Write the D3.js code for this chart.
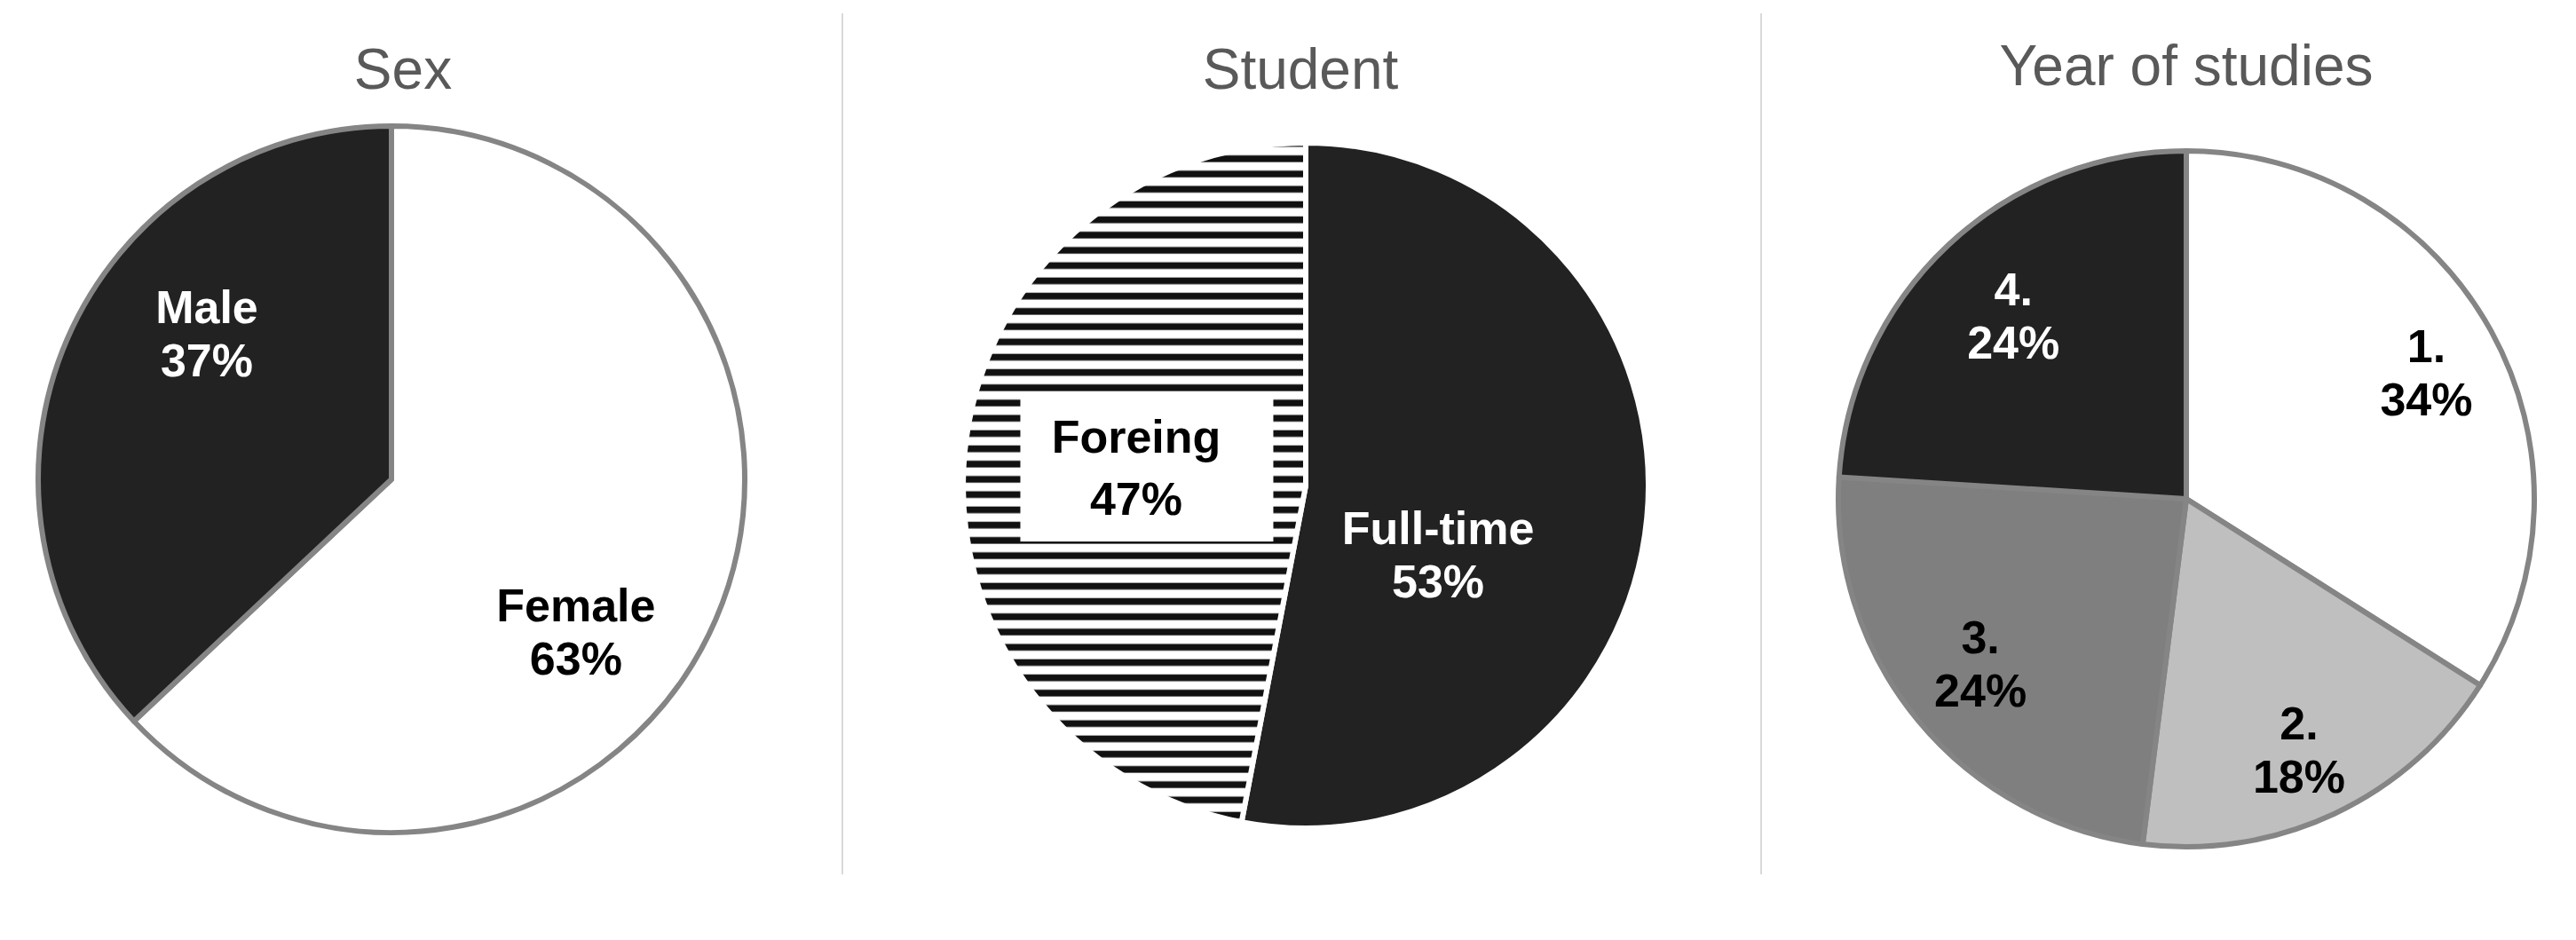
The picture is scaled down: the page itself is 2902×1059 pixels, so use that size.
<!DOCTYPE html>
<html>
<head>
<meta charset="utf-8">
<script src="https://cdn.jsdelivr.net/npm/d3@7"></script>
<style>
  body { margin: 0; background: #fff; }
  svg { display: block; }
</style>
</head>
<body>
<div id="chart"></div>
<script>
// chart values
const titles = ["Sex", "Student", "Year of studies"];

const sexLabels = ["Female", "Male"];
const sexValues = [63, 37];

const studentLabels = ["Full-time", "Foreing"];
const studentValues = [53, 47];

const yearLabels = ["1.", "2.", "3.", "4."];
const yearValues = [34, 18, 24, 24];

function init() {
  const W = 2902, H = 1059;

  const svg = d3.select("#chart")
    .append("svg")
    .attr("width", W)
    .attr("height", H);

  const defs = svg.append("defs");
  const pat = defs.append("pattern")
    .attr("id", "stripes")
    .attr("patternUnits", "userSpaceOnUse")
    .attr("width", 20)
    .attr("height", 17.2);
  pat.append("rect").attr("width", 20).attr("height", 17.2).attr("fill", "#fff");
  pat.append("rect").attr("y", 6.4).attr("width", 20).attr("height", 7.6).attr("fill", "#111");

  // layout of the three panels
  const panels = [
    {
      title: titles[0], labels: sexLabels, values: sexValues,
      cx: 441, cy: 540, r: 398, titleX: 454, titleY: 100,
      fills: ["#ffffff", "#222222"], stroke: "#858585", strokeW: 6,
      textFill: ["#000", "#fff"], lineGap: 60,
      // [radius fraction, angle shift in degrees] for each label
      labelPos: [[0.676, 16], [0.667, 15]]
    },
    {
      title: titles[1], labels: studentLabels, values: studentValues,
      cx: 1471, cy: 547, r: 386, titleX: 1465, titleY: 100,
      fills: ["#222222", "url(#stripes)"], stroke: "#ffffff", strokeW: 6,
      textFill: ["#fff", "#000"], lineGap: [60, 70],
      labelPos: [[0.435, 22], [0.498, 1]],
      labelBox: [null, { w: 285, h: 169, dx: 12 }]
    },
    {
      title: titles[2], labels: yearLabels, values: yearValues,
      cx: 2463, cy: 562, r: 392, titleX: 2463, titleY: 96,
      fills: ["#ffffff", "#bfbfbf", "#7f7f7f", "#222222"], stroke: "#858585", strokeW: 6,
      textFill: ["#000", "#000", "#000", "#fff"], lineGap: 60,
      labelPos: [[0.78, 1], [0.79, 1], [0.757, 1], [0.726, 0]]
    }
  ];

  // thin separators between panels
  [949, 1984].forEach(x => {
    svg.append("line")
      .attr("x1", x).attr("x2", x)
      .attr("y1", 15).attr("y2", 985)
      .attr("stroke", "#d9d9d9")
      .attr("stroke-width", 2);
  });

  const pie = d3.pie().sort(null).value(d => d.value);

  panels.forEach(p => {
    const data = p.labels.map((l, i) => ({ label: l, value: p.values[i] }));
    const arcs = pie(data);
    const arc = d3.arc().innerRadius(0).outerRadius(p.r);

    svg.append("text")
      .attr("x", p.titleX)
      .attr("y", p.titleY)
      .attr("text-anchor", "middle")
      .style("font-family", "'Liberation Sans', Arial, sans-serif")
      .style("font-size", "64px")
      .style("fill", "#595959")
      .text(p.title);

    const g = svg.append("g")
      .attr("transform", `translate(${p.cx},${p.cy})`);

    g.selectAll(".slice")
      .data(arcs)
      .enter()
      .append("path")
      .attr("class", "slice")
      .attr("d", arc)
      .style("fill", (d, i) => p.fills[i])
      .style("stroke", p.stroke)
      .style("stroke-width", p.strokeW)
      .style("stroke-linejoin", "round");

    arcs.forEach((d, i) => {
      const mid = (d.startAngle + d.endAngle) / 2 + p.labelPos[i][1] * Math.PI / 180;
      const rr = p.r * p.labelPos[i][0];
      const x = Math.sin(mid) * rr;
      const y = -Math.cos(mid) * rr;
      const gap = Array.isArray(p.lineGap) ? p.lineGap[i] : p.lineGap;

      if (p.labelBox && p.labelBox[i]) {
        const b = p.labelBox[i];
        g.append("rect")
          .attr("x", x - b.w / 2 + b.dx)
          .attr("y", y - b.h / 2)
          .attr("width", b.w)
          .attr("height", b.h)
          .style("fill", "#fff");
      }

      const t = g.append("text")
        .attr("text-anchor", "middle")
        .style("font-family", "'Liberation Sans', Arial, sans-serif")
        .style("font-weight", "bold")
        .style("font-size", "52px")
        .style("fill", p.textFill[i]);

      t.append("tspan")
        .attr("x", x)
        .attr("y", y - gap / 2 + 19)
        .text(d.data.label);
      t.append("tspan")
        .attr("x", x)
        .attr("y", y + gap / 2 + 19)
        .text(d.data.value + "%");
    });
  });
}

window.onload = init;
</script>
</body>
</html>
